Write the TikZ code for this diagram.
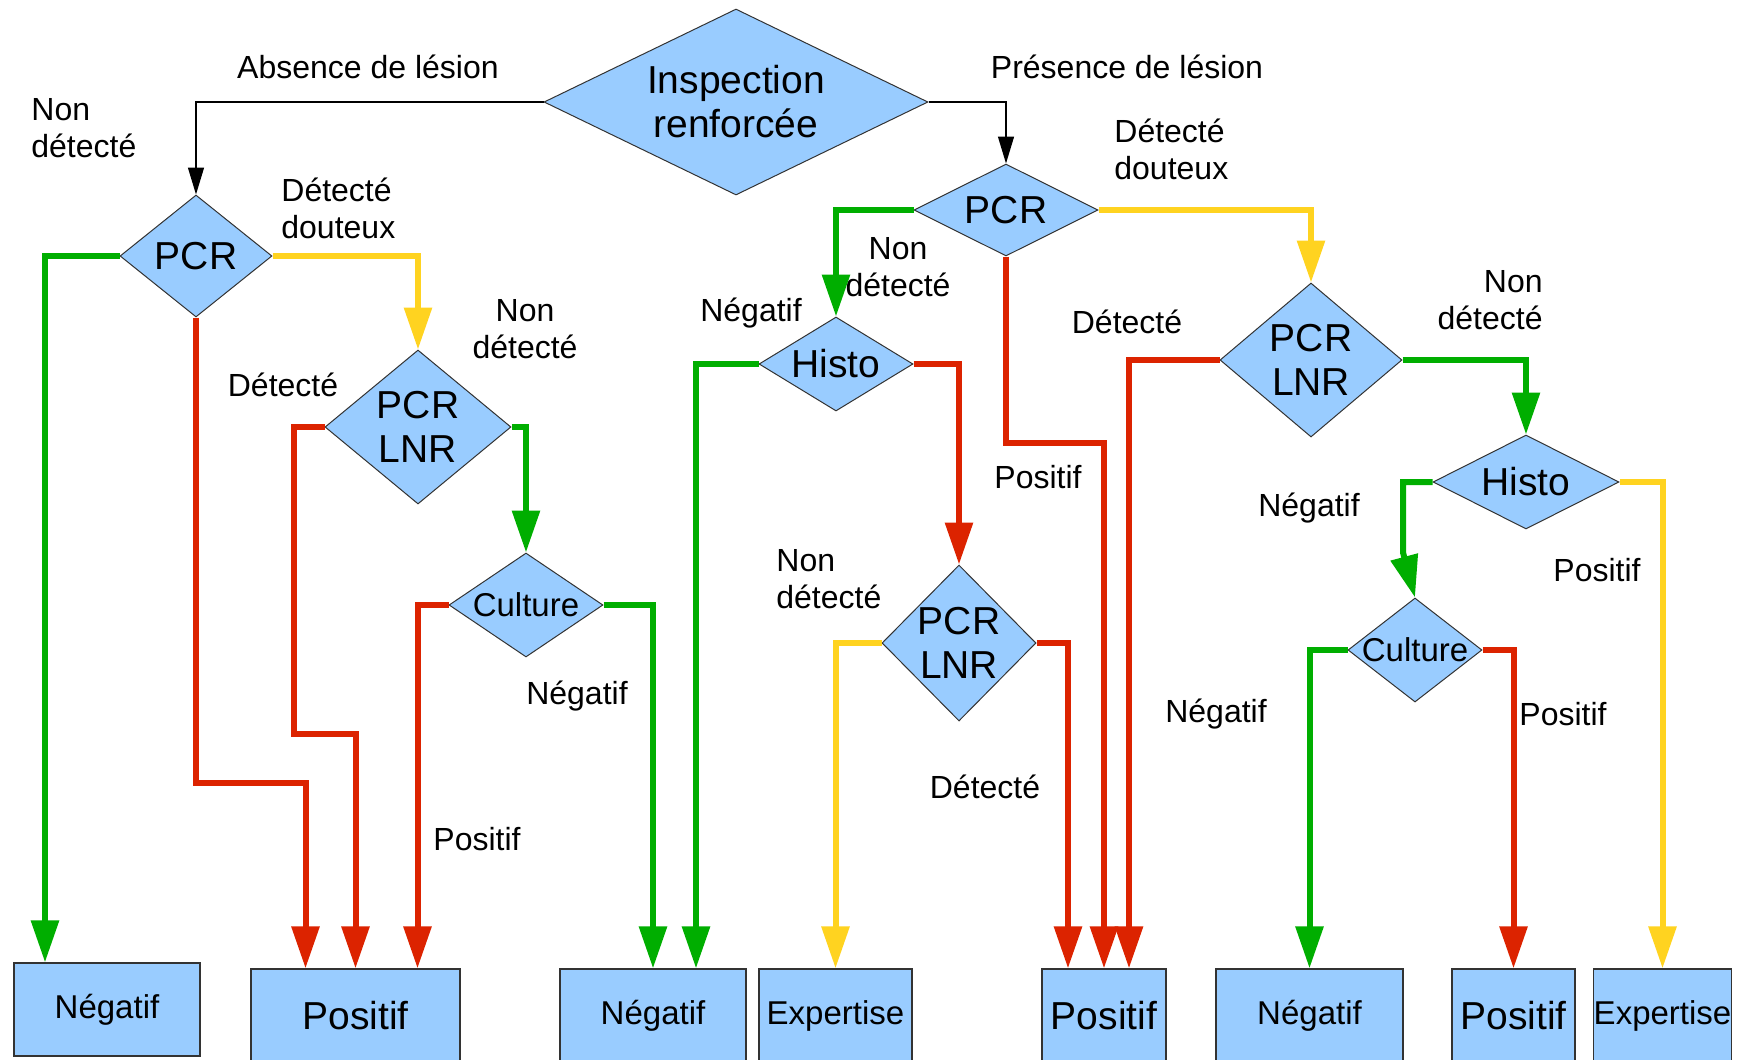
\documentclass[tikz,border=0pt]{standalone}
\usepackage{fontspec}
\setmainfont{Liberation Sans}
\usetikzlibrary{arrows.meta,shapes.geometric,calc}
\definecolor{bleu}{RGB}{153,204,255}
\definecolor{vert}{RGB}{0,174,0}
\definecolor{rouge}{RGB}{220,35,0}
\definecolor{jaune}{RGB}{255,211,32}

\begin{document}
\begin{tikzpicture}[x=0.5pt,y=-0.5pt,
   choix/.style={diamond,draw=black!80,line width=0.5pt,fill=bleu,inner sep=0pt,
                 align=center,font=\fontsize{19.5}{22}\selectfont},
   issue/.style={rectangle,draw=black!80,line width=0.6pt,fill=bleu,inner sep=0pt,
                 font=\fontsize{16.5}{19}\selectfont},
   positif/.style={issue,font=\fontsize{19.5}{22}\selectfont},
   etiq/.style={inner sep=0pt,font=\fontsize{16}{18.5}\selectfont},
   lien/.style={-{Triangle[length=21pt,width=13.5pt]},line width=3pt},
   noir/.style={-{Triangle[length=13.5pt,width=8pt]},line width=0.7pt}]
  \path[use as bounding box,clip] (0,0) rectangle (1740,1060);
  % decisions
  \node[choix,minimum width=192pt,minimum height=93pt,aspect=2.06] (ins) at (736,102) {Inspection\\renforcée};
  \node[choix,minimum width=76pt,minimum height=61pt,aspect=1.25] (p1) at (196,256) {PCR};
  \node[choix,minimum width=93pt,minimum height=77pt,aspect=1.2] (l1) at (418,427) {PCR\\LNR};
  \node[choix,minimum width=77pt,minimum height=52pt,aspect=1.48,font=\fontsize{16.5}{19}\selectfont] (c1) at (526,605) {Culture};
  \node[choix,minimum width=92pt,minimum height=46pt,aspect=2] (p2) at (1006,210) {PCR};
  \node[choix,minimum width=77pt,minimum height=47pt,aspect=1.64] (h1) at (836,364) {Histo};
  \node[choix,minimum width=77pt,minimum height=78pt,aspect=1] (l2) at (959,643) {PCR\\LNR};
  \node[choix,minimum width=91pt,minimum height=77pt,aspect=1.18] (l3) at (1311,360) {PCR\\LNR};
  \node[choix,minimum width=93pt,minimum height=47pt,aspect=1.98] (h2) at (1526,482) {Histo};
  \node[choix,minimum width=67pt,minimum height=52pt,aspect=1.29,inner xsep=-4pt,font=\fontsize{16.5}{19}\selectfont] (c2) at (1415,650) {Culture};
  % results
  \node[issue,minimum width=93pt,minimum height=46.5pt] (neg1) at (107,1009.5) {Négatif};
  \node[positif,minimum width=104.5pt,minimum height=47pt] (pos1) at (355.5,1016) {Positif};
  \node[issue,minimum width=93pt,minimum height=47pt] (neg2) at (653,1016) {Négatif};
  \node[issue,minimum width=76.5pt,minimum height=47pt] (exp1) at (835.5,1016) {Expertise};
  \node[positif,minimum width=62pt,minimum height=47pt] (pos2) at (1104,1016) {Positif};
  \node[issue,minimum width=93.5pt,minimum height=47pt] (neg3) at (1309.5,1016) {Négatif};
  \node[positif,minimum width=61.5pt,minimum height=47pt] (pos3) at (1513.5,1016) {Positif};
  \node[issue,minimum width=67.5pt,minimum height=47pt] (exp2) at (1662.5,1016) {Expertise};
  % labels
  \node[etiq] (tabs) at (368,67) {Absence de lésion};
  \node[etiq] (tpres) at (1127,67) {Présence de lésion};
  \node[etiq,anchor=west,align=left] (t1) at (31,128.5) {Non\\détecté};
  \node[etiq,anchor=west,align=left] (t2) at (281,208.5) {Détecté\\douteux};
  \node[etiq,align=center] (t3) at (525,329.5) {Non\\détecté};
  \node[etiq] (t4) at (283,385) {Détecté};
  \node[etiq] (t5) at (577,696) {Négatif};
  \node[etiq] (t6) at (477,839) {Positif};
  \node[etiq,anchor=west,align=left] (t7) at (1114,149.5) {Détecté\\douteux};
  \node[etiq,align=center] (t8) at (898,267.5) {Non\\détecté};
  \node[etiq] (t9) at (751,313) {Négatif};
  \node[etiq] (t10) at (1038,477) {Positif};
  \node[etiq,anchor=west,align=left] (t11) at (776,579.5) {Non\\détecté};
  \node[etiq] (t12) at (985,787) {Détecté};
  \node[etiq] (t13) at (1127,322) {Détecté};
  \node[etiq,anchor=east,align=right] (t14) at (1543,300.5) {Non\\détecté};
  \node[etiq] (t15) at (1309,508) {Négatif};
  \node[etiq] (t16) at (1597,570) {Positif};
  \node[etiq] (t17) at (1216,714) {Négatif};
  \node[etiq] (t18) at (1563,714) {Positif};
  % connectors
  \draw[noir] (ins.west) -| (p1.north);
  \draw[noir] (ins.east) -| (p2.north);
  \draw[lien,vert] (p1.west) -| ($(neg1.north)+(-62,0)$);
  \draw[lien,rouge] (p1.south) -- ++(0,465) -| ($(pos1.north)+(-50,0)$);
  \draw[lien,jaune] (p1.east) -| (l1.north);
  \draw[lien,rouge] (l1.west) -- ++(-31,0) |- ($(pos1.north)+(0,-234)$) -- (pos1.north);
  \draw[lien,vert] (l1.east) -| (c1.north);
  \draw[lien,rouge] (c1.west) -| ($(pos1.north)+(62,0)$);
  \draw[lien,vert] (c1.east) -| (neg2.north);
  \draw[lien,vert] (p2.west) -| (h1.north);
  \draw[lien,rouge] (p2.south) -- ++(0,186) -| (pos2.north);
  \draw[lien,jaune] (p2.east) -| (l3.north);
  \draw[lien,vert] (h1.west) -| ($(neg2.north)+(43,0)$);
  \draw[lien,rouge] (h1.east) -| (l2.north);
  \draw[lien,jaune] (l2.west) -| (exp1.north);
  \draw[lien,rouge] (l2.east) -| ($(pos2.north)+(-36,0)$);
  \draw[lien,rouge] (l3.west) -| ($(pos2.north)+(25,0)$);
  \draw[lien,vert] (l3.east) -| (h2.north);
  \draw[lien,vert] (h2.west) -| ($(c2.north)+(-12,-45)$) -- (c2.north);
  \draw[lien,jaune] (h2.east) -| (exp2.north);
  \draw[lien,vert] (c2.west) -| (neg3.north);
  \draw[lien,rouge] (c2.east) -| (pos3.north);
\end{tikzpicture}
\end{document}
